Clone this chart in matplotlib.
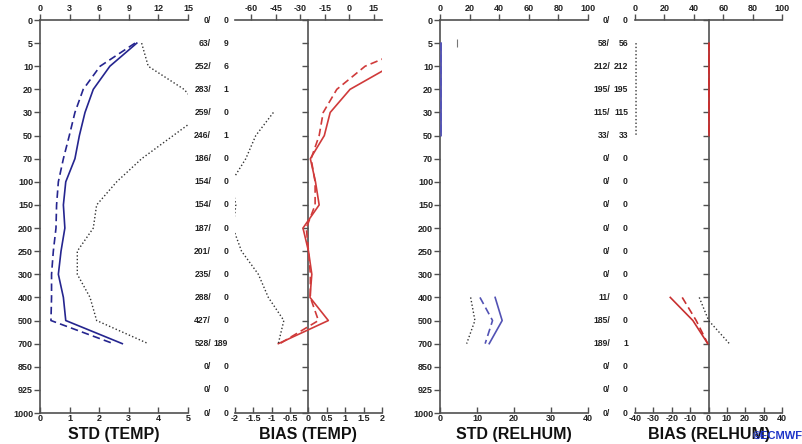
import numpy as np
import matplotlib
matplotlib.use('Agg')
import matplotlib.pyplot as plt
from matplotlib import transforms

plt.rcParams['font.family'] = ['Liberation Sans', 'DejaVu Sans']
plt.rcParams['axes.unicode_minus'] = False

nan = np.nan

# pressure levels (hPa), drawn evenly spaced from top to bottom
levels = ['0', '5', '10', '20', '30', '50', '70', '100', '150', '200',
          '250', '300', '400', '500', '700', '850', '925', '1000']

# STD (TEMP): solid / dashed on bottom scale 0..5, dotted on top scale 0..15
std_t_solid = [nan, 3.27, 2.36, 1.80, 1.52, 1.33, 1.18, 0.87, 0.79, 0.84,
               0.71, 0.62, 0.79, 0.87, 2.78, nan, nan, nan]
std_t_dash = [nan, 3.21, 2.03, 1.46, 1.18, 0.99, 0.79, 0.62, 0.56, 0.54,
              0.45, 0.39, 0.39, 0.37, 2.48, nan, nan, nan]
std_t_dot = [nan, 10.3, 10.97, 14.6, 16.7, 13.5, 10.3, 7.77, 5.74, 5.4,
             3.78, 3.78, 5.07, 5.74, 10.97, nan, nan, nan]

# BIAS (TEMP): bottom scale -2..2, dotted on top scale -70..20
bias_t_solid = [nan, 3.6, 2.24, 1.13, 0.59, 0.43, 0.05, 0.19, 0.29, -0.15,
                0.0, 0.09, 0.04, 0.54, -0.82, nan, nan, nan]
bias_t_dash = [nan, 3.05, 1.54, 0.77, 0.40, 0.29, 0.07, 0.18, 0.18, -0.06,
               0.0, 0.05, 0.05, 0.27, -0.78, nan, nan, nan]
bias_t_dot = [nan, nan, nan, nan, -46.5, -57.3, -63.4, -72.2, -69.5, -71.2,
              -66.0, -55.7, -49.6, -40.1, -43.5, nan, nan, nan]

# STD (RELHUM): bottom scale 0..40, dotted on top scale 0..100
std_r_solid = [nan, 0.3, 0.3, 0.3, 0.3, 0.3, nan, nan, nan, nan,
               nan, nan, 14.9, 16.8, 13.3, nan, nan, nan]
std_r_dash = [nan, 0.2, 0.2, 0.2, 0.2, 0.2, nan, nan, nan, nan,
              nan, nan, 10.8, 14.2, 12.2, nan, nan, nan]
std_r_dot = [nan, 11.3, nan, nan, nan, nan, nan, nan, nan, nan,
             nan, nan, 20.7, 23.6, 18.0, nan, nan, nan]

# BIAS (RELHUM): bottom scale -40..40, dotted on top scale 0..100
bias_r_solid = [nan, 0.3, 0.3, 0.3, 0.3, 0.3, nan, nan, nan, nan,
                nan, nan, -20.8, -8.5, -0.4, nan, nan, nan]
bias_r_dash = [nan, 0.2, 0.2, 0.2, 0.2, 0.2, nan, nan, nan, nan,
               nan, nan, -14.3, -6.7, -0.4, nan, nan, nan]
bias_r_dot = [nan, 0.7, 0.7, 0.7, 0.7, 0.7, nan, nan, nan, nan,
              nan, nan, 43.7, 50.1, 64.2, nan, nan, nan]

# observation counts (used / assimilated)
temp_used = [0, 63, 252, 283, 259, 246, 186, 154, 154, 187, 201, 235, 288, 427, 528, 0, 0, 0]
temp_assim = [0, 9, 6, 1, 0, 1, 0, 0, 0, 0, 0, 0, 0, 0, 189, 0, 0, 0]
rh_used = [0, 58, 212, 195, 115, 33, 0, 0, 0, 0, 0, 0, 11, 185, 189, 0, 0, 0]
rh_assim = [0, 56, 212, 195, 115, 33, 0, 0, 0, 0, 0, 0, 0, 0, 1, 0, 0, 0]

W, H = 803, 444
fig = plt.figure(figsize=(W / 100, H / 100), dpi=100)
fig.patch.set_facecolor('white')

y = np.arange(len(levels))
SPINE = '#505050'
DOT = '#333333'
TXT = '#222222'
dash_style = (0, (4.5, 2.5))
dot_style = (0, (1, 1.6))


def add_panel(x0, x1):
    return fig.add_axes([x0 / W, (H - 413) / H, (x1 - x0) / W, 393 / H])


def style_panel(ax, xlim, xticks, top_lim, top_ticks, zero_spine):
    ax.set_ylim(len(levels) - 1, 0)
    ax.set_yticks(y)
    ax.set_xlim(xlim)
    ax.set_xticks(xticks)
    ax.set_xticklabels(['%g' % t for t in xticks], fontweight='bold', color=TXT)
    for s in ['top', 'right']:
        ax.spines[s].set_visible(False)
    for s in ['left', 'bottom']:
        ax.spines[s].set_color(SPINE)
        ax.spines[s].set_linewidth(1.2)
    if zero_spine:
        ax.spines['left'].set_position(('data', 0))
        ax.set_yticklabels([])
    else:
        ax.set_yticklabels(levels, fontweight='bold', color=TXT)
    ax.tick_params(axis='x', direction='in', length=4, width=1,
                   color=SPINE, labelsize=6.5, pad=1)
    ax.tick_params(axis='y', direction='out', length=4, width=1,
                   color=SPINE, labelsize=6.5, pad=1)
    axt = ax.twiny()
    axt.set_xlim(top_lim)
    axt.set_xticks(top_ticks)
    axt.set_xticklabels(['%g' % t for t in top_ticks], fontweight='bold', color=TXT)
    for s in ['left', 'right', 'bottom']:
        axt.spines[s].set_visible(False)
    axt.spines['top'].set_color(SPINE)
    axt.spines['top'].set_linewidth(1.2)
    axt.tick_params(axis='x', direction='out', length=4, width=1,
                    color=SPINE, labelsize=6.5, pad=1)
    axt.set_ylim(len(levels) - 1, 0)
    return axt


def draw(ax, axt, solid, dash, dot, col):
    ax.plot(solid, y, color=col, lw=1.2, zorder=3)
    ax.plot(dash, y, color=col, lw=1.2, ls=dash_style, zorder=3)
    axt.plot(dot, y, color=DOT, lw=1.0, ls=dot_style)
    # isolated dotted values show up as a short tick
    d = np.array(dot, dtype=float)
    prev = np.r_[nan, d[:-1]]
    nxt = np.r_[d[1:], nan]
    lone = ~np.isnan(d) & np.isnan(prev) & np.isnan(nxt)
    axt.plot(d[lone], y[lone], ls='none', marker='|', ms=6, mew=0.8,
             color='#777777')


ax1 = add_panel(40, 188)
ax2 = add_panel(235, 382)
ax3 = add_panel(440, 588)
ax4 = add_panel(635, 782)

t1 = style_panel(ax1, (0, 5), [0, 1, 2, 3, 4, 5], (0, 15), [0, 3, 6, 9, 12, 15], False)
t2 = style_panel(ax2, (-2, 2), [-2, -1.5, -1, -0.5, 0, 0.5, 1, 1.5, 2],
                 (-70, 20), [-60, -45, -30, -15, 0, 15], True)
t3 = style_panel(ax3, (0, 40), [0, 10, 20, 30, 40], (0, 100), [0, 20, 40, 60, 80, 100], False)
t4 = style_panel(ax4, (-40, 40), [-40, -30, -20, -10, 0, 10, 20, 30, 40],
                 (0, 100), [0, 20, 40, 60, 80, 100], True)

draw(ax1, t1, std_t_solid, std_t_dash, std_t_dot, '#25258f')
draw(ax2, t2, bias_t_solid, bias_t_dash, bias_t_dot, '#d03a3a')
draw(ax3, t3, std_r_solid, std_r_dash, std_r_dot, '#5252b4')
draw(ax4, t4, bias_r_solid, bias_r_dash, bias_r_dot, '#c83030')

# count columns between panels
tr = transforms.blended_transform_factory(fig.transFigure, ax1.transData)
for i in range(len(levels)):
    fig.text(211 / W, y[i], '%d/' % temp_used[i], transform=tr, ha='right',
             va='center', fontsize=6.2, fontweight='bold', color=TXT)
    fig.text(228 / W, y[i], '%d' % temp_assim[i], transform=tr, ha='right',
             va='center', fontsize=6.2, fontweight='bold', color=TXT)
    fig.text(610 / W, y[i], '%d/' % rh_used[i], transform=tr, ha='right',
             va='center', fontsize=6.2, fontweight='bold', color=TXT)
    fig.text(628 / W, y[i], '%d' % rh_assim[i], transform=tr, ha='right',
             va='center', fontsize=6.2, fontweight='bold', color=TXT)

titles = ['STD (TEMP)', 'BIAS (TEMP)', 'STD (RELHUM)', 'BIAS (RELHUM)']
centres = [114, 308, 514, 709]
for t, c in zip(titles, centres):
    fig.text(c / W, 1 - 434 / H, t, ha='center', va='center',
             fontsize=11.5, fontweight='bold', color='#111111')

fig.text(803 / W, 1 - 436 / H, '\u00a9ECMWF', ha='right', va='center',
         fontsize=8, fontweight='bold', color='#1f35c8')

fig.savefig('out.png', dpi=100)
plt.close(fig)
